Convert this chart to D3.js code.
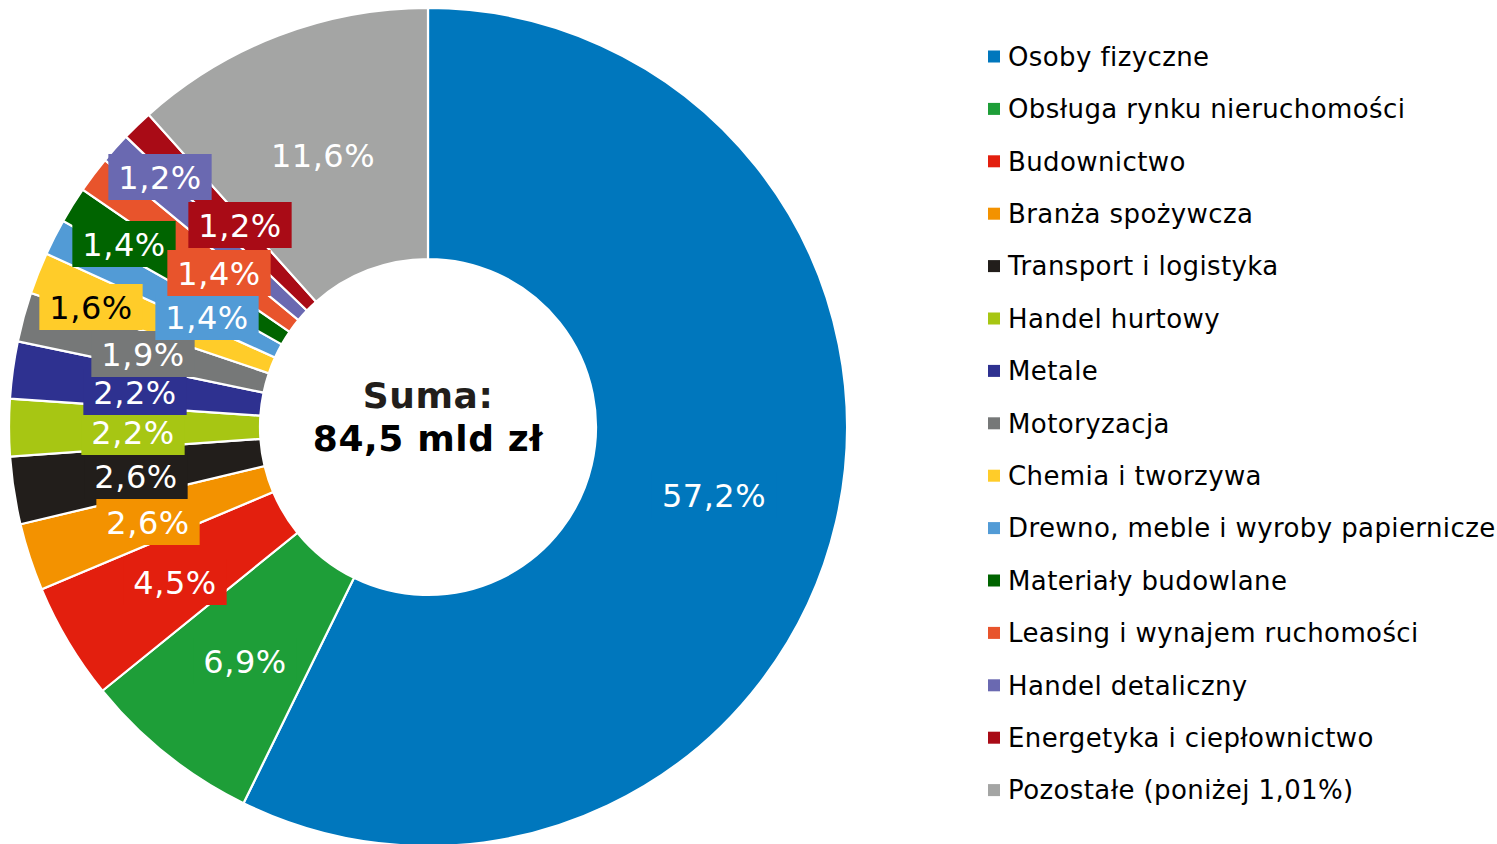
<!DOCTYPE html>
<html>
<head>
<meta charset="utf-8">
<script src="https://cdn.jsdelivr.net/npm/d3@7"></script>
<style>
  html, body { margin: 0; padding: 0; background: #fff; }
  svg { display: block; font-family: "DejaVu Sans", Verdana, sans-serif; }
</style>
</head>
<body>
<svg id="chart" width="1497" height="844"></svg>
<script>
// Udział branż w portfelu (%), kolejno zgodnie z ruchem wskazówek zegara
const categories = [
  "Osoby fizyczne",
  "Obsługa rynku nieruchomości",
  "Budownictwo",
  "Branża spożywcza",
  "Transport i logistyka",
  "Handel hurtowy",
  "Metale",
  "Motoryzacja",
  "Chemia i tworzywa",
  "Drewno, meble i wyroby papiernicze",
  "Materiały budowlane",
  "Leasing i wynajem ruchomości",
  "Handel detaliczny",
  "Energetyka i ciepłownictwo",
  "Pozostałe (poniżej 1,01%)"
];
const shares = [57.2, 6.9, 4.5, 2.6, 2.6, 2.2, 2.2, 1.9, 1.6, 1.4, 1.4, 1.4, 1.2, 1.2, 11.6];
const colors = [
  "#0077bd", "#1e9e38", "#e31f0e", "#f39200", "#221e1b",
  "#a7c613", "#2e3190", "#767878", "#ffcc29", "#529bd6",
  "#006400", "#e8542c", "#6a69b1", "#a90b16", "#a4a5a4"
];
const centerLines = ["Suma:", "84,5 mld zł"];

// Położenie etykiet danych względem środka pierścienia
const labelOffsets = [
  [286, 68], [-183, 234], [-253, 155], [-280, 95], [-292, 49],
  [-295, 5], [-293, -35], [-285, -73], [-337, -120], [-221, -110],
  [-304, -183], [-209, -154], [-268, -250], [-188, -202], [-105, -272]
];

const svg = d3.select("#chart");
const cx = 428, cy = 427;
const outerR = 419, innerR = 168;

const data = categories.map((c, i) => ({ name: c, value: shares[i], color: colors[i], i }));

const pie = d3.pie().value(d => d.value).sort(null).startAngle(0).endAngle(2 * Math.PI);
const arc = d3.arc().innerRadius(innerR).outerRadius(outerR);

const g = svg.append("g").attr("transform", `translate(${cx},${cy})`);

g.selectAll("path.slice")
  .data(pie(data))
  .join("path")
  .attr("class", "slice")
  .attr("d", arc)
  .attr("fill", d => d.data.color)
  .attr("stroke", "#fff")
  .attr("stroke-width", 2.2)
  .attr("stroke-linejoin", "miter");

// Etykiety procentowe na tle w kolorze wycinka
const fmt = v => d3.format(".1f")(v).replace(".", ",") + "%";
const labelFont = 32;
const boxH = 46, padX = 10;

const labels = g.selectAll("g.lbl")
  .data(data)
  .join("g")
  .attr("class", "lbl")
  .attr("transform", d => `translate(${labelOffsets[d.i][0]},${labelOffsets[d.i][1]})`);

labels.each(function(d) {
  const sel = d3.select(this);
  const rect = sel.append("rect").attr("fill", d.color);
  const t = sel.append("text")
    .attr("text-anchor", "middle")
    .attr("dy", "0.36em")
    .attr("font-size", labelFont)
    .attr("letter-spacing", 0.5)
    .attr("fill", d3.hcl(d.color).l > 80 ? "#000" : "#fff")
    .text(fmt(d.value));
  const w = t.node().getComputedTextLength() + 2 * padX;
  rect.attr("x", -w / 2).attr("y", -boxH / 2).attr("width", w).attr("height", boxH);
});

// Suma w środku pierścienia
g.selectAll("text.sum")
  .data(centerLines)
  .join("text")
  .attr("class", "sum")
  .attr("text-anchor", "middle")
  .attr("y", (d, i) => -32 + i * 43)
  .attr("dy", "0.36em")
  .attr("font-size", 36)
  .attr("letter-spacing", 0.6)
  .attr("font-weight", "bold")
  .attr("fill", (d, i) => i === 0 ? "#221e1b" : "#000")
  .text(d => d);

// Legenda
const legendX = 988, legendY0 = 56.5, legendStep = 52.4;
const legend = svg.append("g")
  .selectAll("g.item")
  .data(data)
  .join("g")
  .attr("class", "item")
  .attr("transform", d => `translate(${legendX},${legendY0 + d.i * legendStep})`);

legend.append("rect")
  .attr("x", 0).attr("y", -6)
  .attr("width", 12).attr("height", 12)
  .attr("fill", d => d.color);

legend.append("text")
  .attr("x", 20)
  .attr("dy", "0.36em")
  .attr("font-size", 26)
  .attr("letter-spacing", 0.4)
  .attr("fill", "#000")
  .text(d => d.name);
</script>
</body>
</html>
